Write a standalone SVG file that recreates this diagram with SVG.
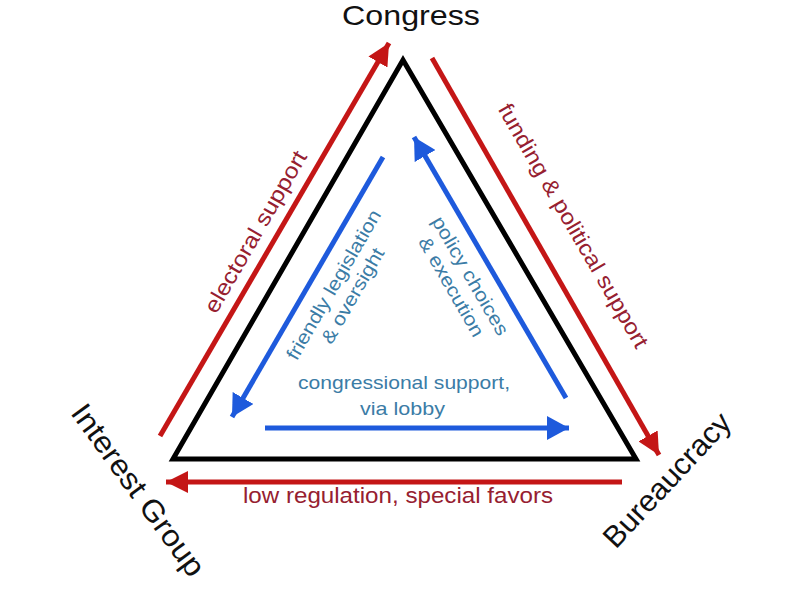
<svg xmlns="http://www.w3.org/2000/svg" width="800" height="600" viewBox="0 0 800 600">
<style>
.node-label{font-family:"Liberation Sans",Arial,sans-serif;fill:#111;}
.red-label{font-family:"Liberation Sans",Arial,sans-serif;fill:#962030;font-size:22px;}
.blue-label{font-family:"Liberation Sans",Arial,sans-serif;fill:#3b7ca6;font-size:19px;}
.red-arrow{stroke:#c41616;stroke-width:5;fill:none;}
.blue-arrow{stroke:#1e5adc;stroke-width:5;fill:none;}
</style>
<defs>
<marker id="redHead" markerUnits="userSpaceOnUse" markerWidth="24" markerHeight="22" refX="22" refY="11" orient="auto">
<path d="M0,0 L22,11 L0,22 z" fill="#c41616"/>
</marker>
<marker id="blueHead" markerUnits="userSpaceOnUse" markerWidth="24" markerHeight="24" refX="22" refY="12" orient="auto">
<path d="M0,0 L22,12 L0,24 z" fill="#1e5adc"/>
</marker>
</defs>
<rect width="800" height="600" fill="#ffffff"/>
<g id="triangle">
<polygon points="403,60 173,459 636,459" fill="none" stroke="#000" stroke-width="5" stroke-linejoin="miter"/>
</g>
<g id="node-congress">
<text class="node-label" x="342" y="25" font-size="28" textLength="138" lengthAdjust="spacingAndGlyphs">Congress</text>
</g>
<g id="node-interest-group">
<text class="node-label" font-size="30" text-anchor="middle" transform="translate(138,490) rotate(54)" x="0" y="10" textLength="205" lengthAdjust="spacingAndGlyphs">Interest Group</text>
</g>
<g id="node-bureaucracy">
<text class="node-label" font-size="30" text-anchor="middle" transform="translate(667,480) rotate(-47)" x="0" y="10" textLength="172" lengthAdjust="spacingAndGlyphs">Bureaucracy</text>
</g>
<g id="connectors">
<line class="red-arrow" x1="160" y1="436" x2="389" y2="43" marker-end="url(#redHead)"/>
<line class="red-arrow" x1="432" y1="58" x2="659" y2="455" marker-end="url(#redHead)"/>
<line class="red-arrow" x1="622" y1="482" x2="166" y2="482" marker-end="url(#redHead)"/>
<line class="blue-arrow" x1="383" y1="157" x2="232" y2="417" marker-end="url(#blueHead)"/>
<line class="blue-arrow" x1="566" y1="398" x2="414" y2="137" marker-end="url(#blueHead)"/>
<line class="blue-arrow" x1="265" y1="428" x2="569" y2="428" marker-end="url(#blueHead)"/>
</g>
<g id="connector-labels">
<text class="red-label" text-anchor="middle" transform="translate(256,232) rotate(-60)" x="0" y="7" textLength="183" lengthAdjust="spacingAndGlyphs">electoral support</text>
<text class="red-label" text-anchor="middle" transform="translate(573,226) rotate(60)" x="0" y="7" textLength="278" lengthAdjust="spacingAndGlyphs">funding &amp; political support</text>
<text class="red-label" x="243" y="503" font-size="21" textLength="310" lengthAdjust="spacingAndGlyphs">low regulation, special favors</text>
<text class="blue-label" text-anchor="middle" transform="translate(334,285) rotate(-60)" x="0" y="6" textLength="170" lengthAdjust="spacingAndGlyphs">friendly legislation</text>
<text class="blue-label" text-anchor="middle" transform="translate(353,296) rotate(-60)" x="0" y="6" textLength="107" lengthAdjust="spacingAndGlyphs">&amp; oversight</text>
<text class="blue-label" text-anchor="middle" transform="translate(470,276) rotate(60)" x="0" y="6" textLength="134" lengthAdjust="spacingAndGlyphs">policy choices</text>
<text class="blue-label" text-anchor="middle" transform="translate(451,287) rotate(60)" x="0" y="6" textLength="112" lengthAdjust="spacingAndGlyphs">&amp; execution</text>
<text class="blue-label" x="298" y="389" textLength="212" lengthAdjust="spacingAndGlyphs">congressional support,</text>
<text class="blue-label" x="360" y="415" textLength="85" lengthAdjust="spacingAndGlyphs">via lobby</text>
</g>
</svg>
